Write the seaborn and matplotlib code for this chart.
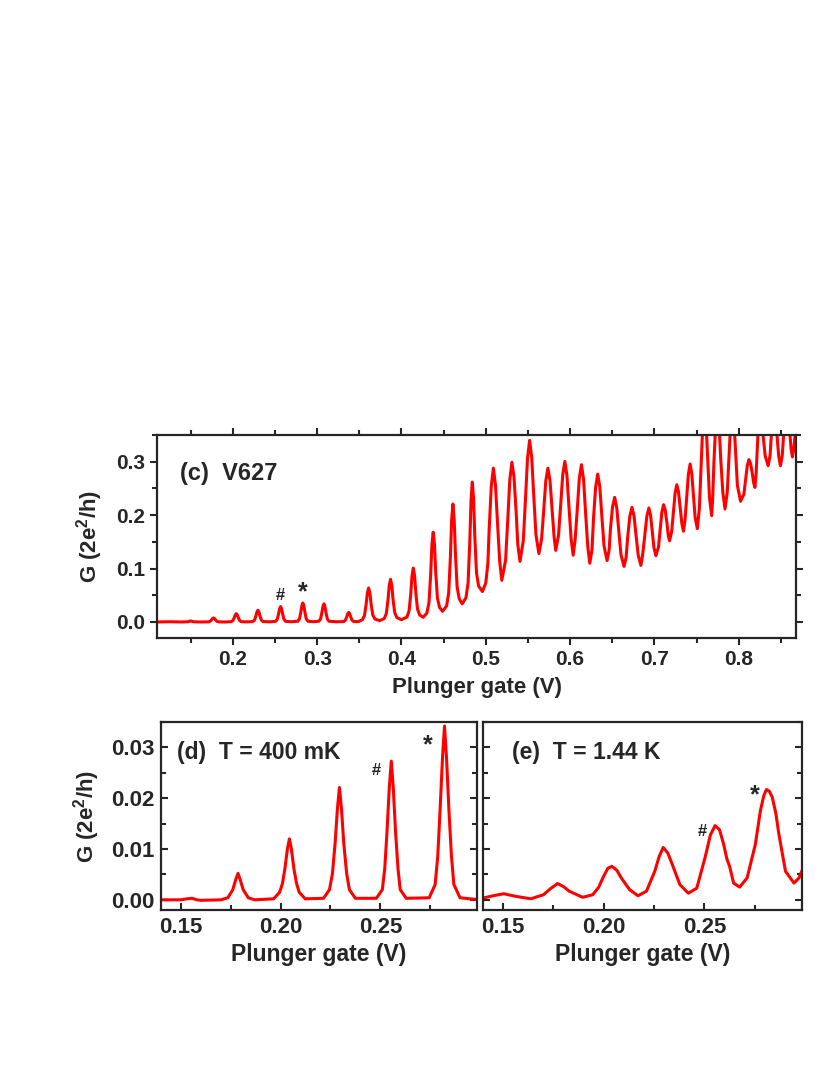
import numpy as np
import pandas as pd
import matplotlib
matplotlib.use("Agg")
import matplotlib.pyplot as plt
from matplotlib.ticker import MultipleLocator, FormatStrFormatter
import seaborn as sns

# panel (c): V627, full gate sweep (peaks above 0.35 are cut by the axis)
c_gate = [0.110, 0.125, 0.140, 0.147, 0.150, 0.153, 0.160,
          0.171, 0.173, 0.1745, 0.1758, 0.177, 0.1782, 0.1795, 0.181, 0.183, 0.190,
          0.198, 0.200, 0.2015, 0.2028, 0.204, 0.2052, 0.2065, 0.208, 0.210, 0.2165,
          0.2237, 0.2257, 0.2272, 0.2285, 0.2297, 0.2309, 0.2322, 0.2337, 0.2357, 0.243,
          0.2506, 0.2526, 0.2541, 0.2554, 0.2566, 0.2578, 0.2591, 0.2606, 0.2626, 0.2695,
          0.277, 0.279, 0.2805, 0.2818, 0.283, 0.2842, 0.2855, 0.287, 0.289, 0.2955,
          0.302, 0.304, 0.3055, 0.3068, 0.308, 0.3092, 0.3105, 0.312, 0.314, 0.323,
          0.3314, 0.3334, 0.3349, 0.3362, 0.3374, 0.3386, 0.3399, 0.3414, 0.3434, 0.349,
          0.3535, 0.356, 0.358, 0.3595, 0.361, 0.3625, 0.364, 0.366, 0.3685, 0.374,
          0.3795, 0.382, 0.384, 0.3855, 0.387, 0.3885, 0.390, 0.392, 0.3945, 0.400,
          0.4065, 0.409, 0.411, 0.4125, 0.414, 0.4155, 0.417, 0.419, 0.4215, 0.4257,
          0.4301, 0.4326, 0.4346, 0.4361, 0.4376, 0.4391, 0.4406, 0.4426, 0.4451, 0.4487,
          0.4535, 0.456, 0.458, 0.4595, 0.461, 0.4625, 0.464, 0.466, 0.4685, 0.472,
          0.4765, 0.479, 0.481, 0.4825, 0.484, 0.4855, 0.487, 0.489, 0.4915, 0.496,
          0.500, 0.5025, 0.504, 0.5065, 0.509, 0.5115, 0.514, 0.5165, 0.519,
          0.5235, 0.526, 0.5285, 0.531, 0.5335, 0.536, 0.538, 0.5406,
          0.5445, 0.547, 0.5495, 0.552, 0.5545, 0.557, 0.5595, 0.563,
          0.5662, 0.5687, 0.5712, 0.5737, 0.5762, 0.5787, 0.581, 0.583,
          0.5863, 0.5888, 0.5913, 0.5938, 0.5963, 0.5988, 0.6013, 0.6037,
          0.606, 0.6085, 0.611, 0.6135, 0.616, 0.6185, 0.621, 0.6234,
          0.626, 0.6278, 0.6303, 0.6328, 0.6353, 0.6378, 0.6403, 0.6439,
          0.6464, 0.6479, 0.6504, 0.6529, 0.6554, 0.6579, 0.6604, 0.664,
          0.6665, 0.6684, 0.6709, 0.6734, 0.6759, 0.6784, 0.6809, 0.684,
          0.686, 0.6885, 0.691, 0.6935, 0.6955, 0.6975, 0.6995, 0.7018,
          0.7049, 0.7069, 0.7089, 0.7109, 0.7129, 0.7149, 0.7165, 0.718,
          0.7206, 0.7226, 0.7246, 0.7266, 0.7286, 0.7306, 0.7326, 0.7345,
          0.7364, 0.7384, 0.7404, 0.7424, 0.7444, 0.7464, 0.7484, 0.751,
          0.7534, 0.7554, 0.7574, 0.7594, 0.7614, 0.7634, 0.7654, 0.768,
          0.7692, 0.7707, 0.7727, 0.7747, 0.7767, 0.7787, 0.7812, 0.7838,
          0.7865, 0.7885, 0.7905, 0.7925, 0.7945, 0.7965, 0.7985, 0.8023,
          0.8062, 0.8082, 0.8102, 0.8122, 0.8142, 0.8162, 0.8178, 0.8193,
          0.8207, 0.8222, 0.8237, 0.8252, 0.8272, 0.8292, 0.8315, 0.835,
          0.8372, 0.8387, 0.8402, 0.8417, 0.8437, 0.8457, 0.8475, 0.8496,
          0.8517, 0.8532, 0.8552, 0.8567, 0.8587, 0.8607, 0.8622, 0.8638,
          0.8655, 0.8672, 0.869]
c_G = [0.000, 0.0005, 0.000, 0.0005, 0.002, 0.0005, 0.000,
       0.0003, 0.0013, 0.0038, 0.0064, 0.0075, 0.0064, 0.0038, 0.0013, 0.0003, 0.000,
       0.0006, 0.0027, 0.0078, 0.0133, 0.0156, 0.0133, 0.0078, 0.0027, 0.0006, 0.0002,
       0.0009, 0.0037, 0.011, 0.0187, 0.022, 0.0187, 0.011, 0.0037, 0.0009, 0.0003,
       0.0012, 0.0049, 0.0145, 0.0247, 0.029, 0.0247, 0.0145, 0.0049, 0.0012, 0.0005,
       0.0014, 0.006, 0.0178, 0.0303, 0.0356, 0.0303, 0.0178, 0.006, 0.0014, 0.0005,
       0.0014, 0.0058, 0.017, 0.0289, 0.034, 0.0289, 0.017, 0.0058, 0.0014, 0.0004,
       0.0008, 0.0031, 0.009, 0.0153, 0.018, 0.0153, 0.009, 0.0031, 0.0008, 0.0008,
       0.0041, 0.0116, 0.0323, 0.0542, 0.0636, 0.0544, 0.0331, 0.0129, 0.0056, 0.0025,
       0.0064, 0.0157, 0.0413, 0.0684, 0.080, 0.0687, 0.0422, 0.0173, 0.0082, 0.0044,
       0.0092, 0.0208, 0.0527, 0.0865, 0.101, 0.0872, 0.0549, 0.0244, 0.0133, 0.0087,
       0.0167, 0.0358, 0.0884, 0.1441, 0.168, 0.1458, 0.094, 0.0452, 0.0274, 0.020,
       0.030, 0.0542, 0.1205, 0.1909, 0.221, 0.193, 0.1275, 0.0658, 0.0434, 0.034,
       0.0454, 0.0728, 0.148, 0.2278, 0.262, 0.2313, 0.1595, 0.0919, 0.0673, 0.057,
       0.073, 0.110, 0.1725, 0.2534, 0.288, 0.2565, 0.183, 0.1137, 0.078,
       0.1156, 0.1885, 0.2659, 0.299, 0.2712, 0.2063, 0.145, 0.1135,
       0.152, 0.2268, 0.306, 0.340, 0.3082, 0.234, 0.164, 0.128,
       0.1552, 0.208, 0.264, 0.288, 0.2649, 0.211, 0.1602, 0.134,
       0.1623, 0.2174, 0.2757, 0.3007, 0.2743, 0.2129, 0.1549, 0.125,
       0.1538, 0.2098, 0.2691, 0.2945, 0.2668, 0.2023, 0.1414, 0.110,
       0.135, 0.1935, 0.252, 0.277, 0.2527, 0.196, 0.1425, 0.115,
       0.1351, 0.1742, 0.2156, 0.2333, 0.2139, 0.1687, 0.126, 0.104,
       0.121, 0.1593, 0.198, 0.2146, 0.1983, 0.1603, 0.1245, 0.106,
       0.1243, 0.1597, 0.1973, 0.2134, 0.200, 0.1687, 0.1392, 0.124,
       0.1403, 0.1718, 0.2053, 0.2196, 0.2095, 0.1858, 0.162, 0.152,
       0.1699, 0.2045, 0.2413, 0.257, 0.244, 0.2135, 0.1848, 0.170,
       0.1914, 0.2329, 0.2768, 0.2957, 0.2776, 0.2352, 0.1953, 0.1747,
       0.213, 0.2874, 0.3662, 0.400, 0.3699, 0.2995, 0.2332, 0.199,
       0.2332, 0.2995, 0.3699, 0.400, 0.3717, 0.3058, 0.2435, 0.2115,
       0.2435, 0.3058, 0.3717, 0.400, 0.3739, 0.313, 0.2556, 0.226,
       0.2393, 0.265, 0.2923, 0.304, 0.2962, 0.278, 0.2608, 0.252,
       0.2772, 0.326, 0.378, 0.400, 0.3839, 0.3463, 0.3109, 0.2926,
       0.3109, 0.3463, 0.3839, 0.400, 0.3839, 0.3463, 0.3109, 0.2926,
       0.3109, 0.3463, 0.3839, 0.400, 0.3863, 0.3545, 0.3245, 0.309,
       0.325, 0.355, 0.380]

# panel (d): T = 400 mK
d_gate = [0.140, 0.150, 0.153, 0.1555, 0.158, 0.160, 0.170,
          0.1735, 0.1760, 0.1775, 0.1786, 0.1797, 0.1812, 0.1838, 0.187,
          0.1965, 0.1995, 0.2009, 0.2021, 0.2034, 0.2044, 0.2054, 0.2067, 0.2080,
          0.2093, 0.2123,
          0.2215, 0.2245, 0.2260, 0.2273, 0.2285, 0.2295, 0.2305, 0.2317, 0.2331,
          0.2345, 0.2375,
          0.2480, 0.2510, 0.2522, 0.2533, 0.2545, 0.2555, 0.2565, 0.2577, 0.2589,
          0.2600, 0.2630,
          0.2745, 0.2775, 0.2788, 0.2799, 0.2812, 0.2822, 0.2832, 0.2845, 0.2857,
          0.2869, 0.2900, 0.300]
d_G = [0.0000, 0.0000, 0.0002, 0.0003, 0.0000, -0.0001, 0.0000,
       0.0004, 0.0020, 0.0040, 0.0052, 0.0040, 0.0020, 0.0004, 0.0000,
       0.0002, 0.0015, 0.0032, 0.0060, 0.0100, 0.0120, 0.0100, 0.0060, 0.0032,
       0.0015, 0.0002,
       0.0003, 0.0020, 0.0052, 0.0110, 0.0180, 0.0221, 0.0180, 0.0110, 0.0052,
       0.0020, 0.0003,
       0.0003, 0.0020, 0.0060, 0.0130, 0.0220, 0.0273, 0.0220, 0.0130, 0.0060,
       0.0020, 0.0003,
       0.0004, 0.0030, 0.0085, 0.0170, 0.0280, 0.0342, 0.0280, 0.0170, 0.0085,
       0.0030, 0.0004, 0.0000]

# panel (e): T = 1.44 K
e_gate = [0.1395, 0.145, 0.1503, 0.156, 0.1637, 0.170, 0.1735, 0.177, 0.180,
          0.1828, 0.1895, 0.1945, 0.1975, 0.1995, 0.2020, 0.204, 0.2065, 0.2087,
          0.2128, 0.217, 0.2212, 0.2253, 0.2275, 0.2295, 0.2318, 0.2337, 0.2378,
          0.242, 0.2462, 0.2503, 0.2530, 0.2553, 0.2575, 0.2595, 0.2612, 0.2625,
          0.2645, 0.2675, 0.2712, 0.2753, 0.2778, 0.2795, 0.2808, 0.2822, 0.2837,
          0.2855, 0.287, 0.2903, 0.2945, 0.297, 0.2992]
e_G = [0.0003, 0.0008, 0.0012, 0.0007, 0.0002, 0.0010, 0.0022, 0.0032, 0.0026,
       0.0017, 0.0005, 0.0010, 0.0025, 0.0043, 0.0062, 0.0066, 0.0058, 0.0043,
       0.0020, 0.0008, 0.0017, 0.0056, 0.0085, 0.0103, 0.0092, 0.0073, 0.0030,
       0.0013, 0.0023, 0.0083, 0.0128, 0.0146, 0.0138, 0.0110, 0.0080, 0.0066,
       0.0033, 0.0025, 0.0043, 0.0109, 0.0175, 0.0205, 0.0217, 0.0214, 0.0202,
       0.0170, 0.0129, 0.0056, 0.0033, 0.0043, 0.0064]

panel_c_label = "(c)  V627"
panel_d_label = "(d)  T = 400 mK"
panel_e_label = "(e)  T = 1.44 K"
x_label = "Plunger gate (V)"
y_label = r"G (2e$^{\mathbf{2}}$/h)"

sns.set_style("ticks")
plt.rcParams['font.family'] = ['Liberation Sans', 'DejaVu Sans']
plt.rcParams['font.weight'] = 'bold'
plt.rcParams['mathtext.fontset'] = 'custom'
plt.rcParams['mathtext.rm'] = 'Liberation Sans:bold'
plt.rcParams['mathtext.bf'] = 'Liberation Sans:bold'

fig = plt.figure(figsize=(8.3, 10.75), dpi=100)
ax_c = fig.add_axes([0.1892, 0.4065, 0.7698, 0.1888])
ax_d = fig.add_axes([0.194, 0.1535, 0.3807, 0.1749])
ax_e = fig.add_axes([0.582, 0.1535, 0.3843, 0.1749])

red = '#ff0000'
lw = 2.2

df_c = pd.DataFrame({'gate': c_gate, 'G': c_G})
df_d = pd.DataFrame({'gate': d_gate, 'G': d_G})
df_e = pd.DataFrame({'gate': e_gate, 'G': e_G})

sns.lineplot(data=df_c, x='gate', y='G', ax=ax_c, color=red, lw=lw, estimator=None)
sns.lineplot(data=df_d, x='gate', y='G', ax=ax_d, color=red, lw=lw, estimator=None)
sns.lineplot(data=df_e, x='gate', y='G', ax=ax_e, color=red, lw=lw, estimator=None)

# top panel
ax_c.set_xlim(0.11, 0.868)
ax_c.set_ylim(-0.03, 0.35)
ax_c.xaxis.set_major_locator(MultipleLocator(0.1))
ax_c.xaxis.set_minor_locator(MultipleLocator(0.05))
ax_c.yaxis.set_major_locator(MultipleLocator(0.1))
ax_c.yaxis.set_minor_locator(MultipleLocator(0.05))
ax_c.xaxis.set_major_formatter(FormatStrFormatter('%.1f'))
ax_c.yaxis.set_major_formatter(FormatStrFormatter('%.1f'))
ax_c.tick_params(which='both', direction='out', top=True, right=True, width=1.5,
                 labelsize=15)
ax_c.tick_params(which='major', length=5)
ax_c.tick_params(which='minor', length=3.5)
ax_c.set_xlabel(x_label, fontsize=16, fontweight='bold', labelpad=6)
ax_c.set_ylabel(y_label, fontsize=16, fontweight='bold', labelpad=8)
ax_c.text(0.036, 0.813, panel_c_label, transform=ax_c.transAxes, fontsize=17,
          fontweight='bold', va='center')
ax_c.text(0.2566, 0.050, '#', fontsize=12, fontweight='bold', ha='center', va='center')
ax_c.text(0.283, 0.056, '*', fontsize=18, fontweight='bold', ha='center', va='center')

# bottom panels
for ax in (ax_d, ax_e):
    ax.set_xlim(0.14, 0.2985)
    ax.set_ylim(-0.002, 0.035)
    ax.xaxis.set_major_locator(MultipleLocator(0.05))
    ax.xaxis.set_minor_locator(MultipleLocator(0.025))
    ax.yaxis.set_major_locator(MultipleLocator(0.01))
    ax.yaxis.set_minor_locator(MultipleLocator(0.005))
    ax.xaxis.set_major_formatter(FormatStrFormatter('%.2f'))
    ax.yaxis.set_major_formatter(FormatStrFormatter('%.2f'))
    ax.tick_params(which='both', direction='in', top=False, right=True, width=1.5,
                   labelsize=16, pad=5)
    ax.tick_params(which='major', length=5)
    ax.tick_params(which='minor', length=3.5)
    ax.set_xlabel(x_label, fontsize=16.5, fontweight='bold', labelpad=4)

ax_d.set_ylabel(y_label, fontsize=16, fontweight='bold', labelpad=6)
ax_e.set_ylabel('')
ax_e.tick_params(labelleft=False)

ax_d.text(0.05, 0.835, panel_d_label, transform=ax_d.transAxes, fontsize=16.5,
          fontweight='bold', va='center')
ax_e.text(0.091, 0.84, panel_e_label, transform=ax_e.transAxes, fontsize=16.5,
          fontweight='bold', va='center')
ax_d.text(0.248, 0.0255, '#', fontsize=12, fontweight='bold', ha='center', va='center')
ax_d.text(0.2738, 0.0305, '*', fontsize=18, fontweight='bold', ha='center', va='center')
ax_e.text(0.2489, 0.0135, '#', fontsize=12, fontweight='bold', ha='center', va='center')
ax_e.text(0.2748, 0.0205, '*', fontsize=18, fontweight='bold', ha='center', va='center')

for ax in (ax_c, ax_d, ax_e):
    for s in ax.spines.values():
        s.set_linewidth(1.6)
        s.set_visible(True)
    for lab in ax.get_xticklabels() + ax.get_yticklabels():
        lab.set_fontweight('bold')

fig.savefig('out.png', dpi=100)
